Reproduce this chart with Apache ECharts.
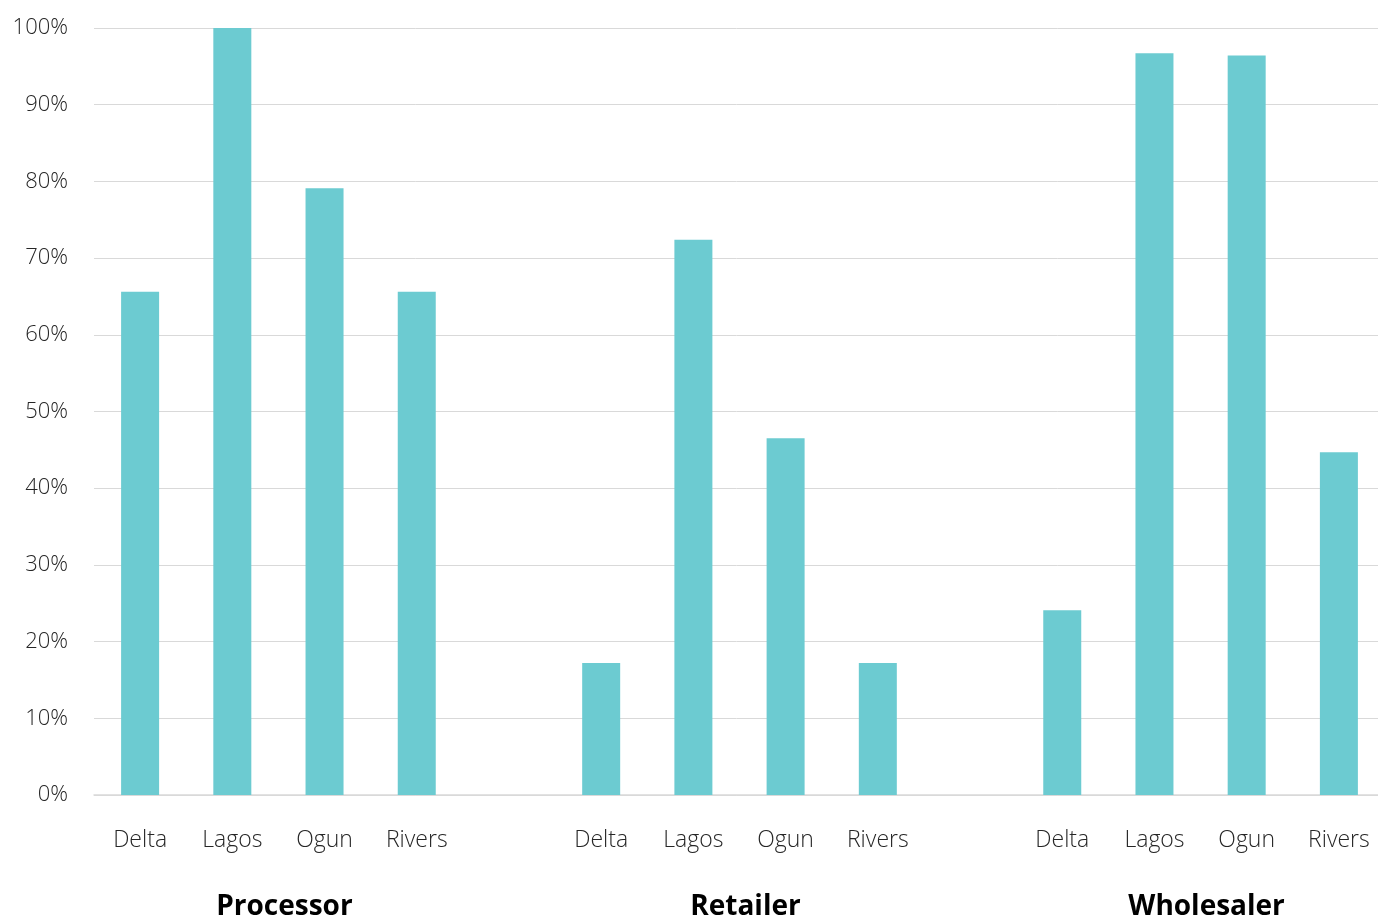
<!DOCTYPE html>
<html>
<head>
<meta charset="utf-8">
<script src="https://cdn.jsdelivr.net/npm/echarts@6/dist/echarts.min.js"></script>
<style>
html,body{margin:0;padding:0;background:#fff;}
#chart{width:1378px;height:918px;}
</style>
</head>
<body>
<div id="chart"></div>
<script>
// Categories (blank slot separates groups)
const categories = ['Delta','Lagos','Ogun','Rivers','', 'Delta','Lagos','Ogun','Rivers','', 'Delta','Lagos','Ogun','Rivers'];
// Values in percent (null for gap slots)
const values = [65.6, 100, 79.1, 65.6, null, 17.2, 72.4, 46.5, 17.2, null, 24.1, 96.7, 96.4, 44.7];
// Group labels on a half-slot axis (29 boundary positions)
const groupNames = ['Processor','Retailer','Wholesaler'];
const groupSlots = [4, 14, 24];
const yTicks = {min: 0, max: 100, interval: 10};

const groupAxisData = [];
for (let i = 0; i < 29; i++) groupAxisData.push('');
groupNames.forEach((g, k) => { groupAxisData[groupSlots[k]] = g; });

const font = '"Open Sans", "DejaVu Sans", sans-serif';
const chart = echarts.init(document.getElementById('chart'), null, {renderer: 'canvas'});
chart.setOption({
  animation: false,
  backgroundColor: '#ffffff',
  grid: {left: 94, right: -7, top: 28, bottom: 123, containLabel: false, outerBoundsMode: 'none'},
  xAxis: [{
    type: 'category',
    data: categories,
    position: 'bottom',
    axisLine: {show: true, lineStyle: {color: '#d9d9d9', width: 1.5}},
    axisTick: {show: false},
    axisLabel: {interval: 0, margin: 34, fontSize: 23, fontFamily: font, fontWeight: 300, color: '#262626'}
  }, {
    type: 'category',
    data: groupAxisData,
    boundaryGap: false,
    position: 'bottom',
    offset: 0,
    axisLine: {show: false},
    axisTick: {show: false},
    splitLine: {show: false},
    axisLabel: {interval: 0, margin: 98, fontSize: 28, fontFamily: font, fontWeight: 'bold', color: '#000000', padding: [0, 0, 0, 12]}
  }],
  yAxis: {
    type: 'value',
    min: yTicks.min, max: yTicks.max, interval: yTicks.interval,
    axisLine: {show: false},
    axisTick: {show: false},
    splitLine: {lineStyle: {color: '#d9d9d9', width: 1}},
    axisLabel: {formatter: '{value}%', margin: 26, fontSize: 22, fontFamily: font, fontWeight: 300, color: '#262626'}
  },
  series: [{
    type: 'bar',
    xAxisIndex: 0,
    data: values,
    barWidth: 38,
    itemStyle: {color: '#6ccbd1'}
  }]
});
</script>
</body>
</html>
